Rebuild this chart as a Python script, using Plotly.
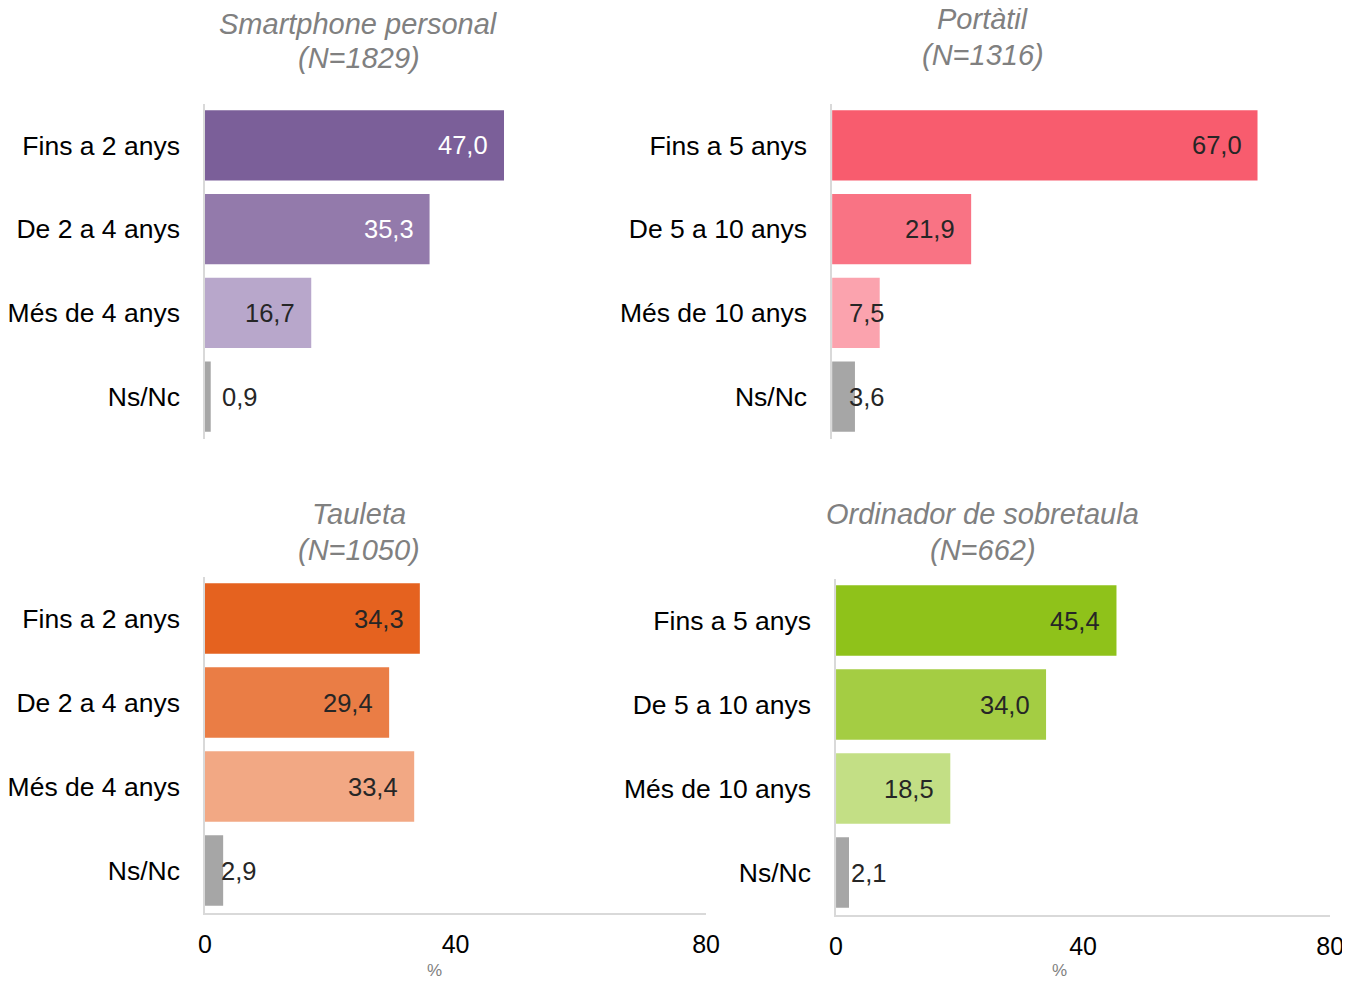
import plotly.graph_objects as go

W, H = 1350, 981

# data
smart_cats = ["Fins a 2 anys", "De 2 a 4 anys", "Més de 4 anys", "Ns/Nc"]
smart_vals = [47.0, 35.3, 16.7, 0.9]

port_cats = ["Fins a 5 anys", "De 5 a 10 anys", "Més de 10 anys", "Ns/Nc"]
port_vals = [67.0, 21.9, 7.5, 3.6]

taul_cats = ["Fins a 2 anys", "De 2 a 4 anys", "Més de 4 anys", "Ns/Nc"]
taul_vals = [34.3, 29.4, 33.4, 2.9]

ord_cats = ["Fins a 5 anys", "De 5 a 10 anys", "Més de 10 anys", "Ns/Nc"]
ord_vals = [45.4, 34.0, 18.5, 2.1]

x_ticks = [0, 40, 80]


def fx(px):
    return px / W


def fy(py):
    return 1 - py / H


panels = [
    dict(cats=smart_cats, vals=smart_vals, title=["Smartphone personal", "(N=1829)"],
         colors=["#7B5F99", "#937AAB", "#B8A7CB", "#A6A6A6"],
         txt=["white", "white", "#262626", "#262626"],
         xd=(193, 710), yd=(95.5, 430.5), tx=349, ty=(15.5, 49.5), bottom=False),
    dict(cats=port_cats, vals=port_vals, title=["Portàtil", "(N=1316)"],
         colors=["#F85C6E", "#F97384", "#FBA3AE", "#A6A6A6"],
         txt=["#262626"] * 4,
         xd=(830, 1346), yd=(95.5, 430.5), tx=983, ty=(10.5, 46.5), bottom=False),
    dict(cats=taul_cats, vals=taul_vals, title=["Tauleta", "(N=1050)"],
         colors=["#E5621F", "#EA7D45", "#F2A884", "#A6A6A6"],
         txt=["#262626"] * 4,
         xd=(193, 702), yd=(568.5, 904.5), tx=349, ty=(505.5, 541.5), bottom=True),
    dict(cats=ord_cats, vals=ord_vals, title=["Ordinador de sobretaula", "(N=662)"],
         colors=["#8FC21A", "#A4CD43", "#C3DF85", "#A6A6A6"],
         txt=["#262626"] * 4,
         xd=(834, 1336), yd=(570.5, 906.5), tx=983, ty=(505.5, 541.5), bottom=True),
]

fig = go.Figure()
annotations = []

for i, p in enumerate(panels, start=1):
    sfx = "" if i == 1 else str(i)
    fig.add_trace(go.Bar(
        x=p["vals"], y=p["cats"], orientation="h",
        marker=dict(color=p["colors"], line=dict(width=0)),
        xaxis="x" + sfx, yaxis="y" + sfx,
        hoverinfo="x+y", showlegend=False,
    ))

    xa = dict(domain=[fx(p["xd"][0]), fx(p["xd"][1])], range=[0, 80],
              anchor="y" + sfx, showgrid=False, zeroline=False, fixedrange=True)
    if p["bottom"]:
        xa.update(showline=True, linecolor="#D9D9D9", linewidth=1.5,
                  tickvals=x_ticks, ticks="", ticklabelstandoff=9,
                  tickfont=dict(family="Liberation Sans", size=25, color="black"))
    else:
        xa.update(visible=False)
    ya = dict(domain=[fy(p["yd"][1]), fy(p["yd"][0])], anchor="x" + sfx,
              autorange="reversed", type="category",
              showline=True, linecolor="#D9D9D9", linewidth=1.5,
              ticks="", ticklabelstandoff=18, showgrid=False,
              tickfont=dict(family="Liberation Sans", size=26.5, color="black"))
    fig.update_layout(**{"xaxis" + sfx: xa, "yaxis" + sfx: ya})

    # value labels
    for c, v, col in zip(p["cats"], p["vals"], p["txt"]):
        annotations.append(dict(
            x=max(v, 10.7), y=c, xref="x" + sfx, yref="y" + sfx,
            text=f"{v:.1f}".replace(".", ","), showarrow=False,
            xanchor="right", xshift=-14,
            font=dict(family="Liberation Sans", size=25.5, color=col),
        ))

    # panel title, one annotation per line
    for line, ly in zip(p["title"], p["ty"]):
        annotations.append(dict(
            x=fx(p["tx"]), y=fy(ly), xref="paper", yref="paper",
            text=line, showarrow=False, xanchor="center", yanchor="middle",
            font=dict(family="Liberation Sans", size=29, color="#808080",
                      style="italic"),
        ))

for px in (426, 1061):
    annotations.append(dict(
        x=fx(px), y=fy(962), xref="paper", yref="paper", text="%",
        showarrow=False, xanchor="center", yanchor="middle",
        font=dict(family="Liberation Sans", size=17, color="#7F7F7F"),
    ))

fig.update_layout(
    width=W, height=H,
    margin=dict(l=0, r=0, t=0, b=0),
    paper_bgcolor="white", plot_bgcolor="white",
    bargap=0.163,
    annotations=annotations,
    font=dict(family="Liberation Sans"),
)

fig.write_html("out.html")
